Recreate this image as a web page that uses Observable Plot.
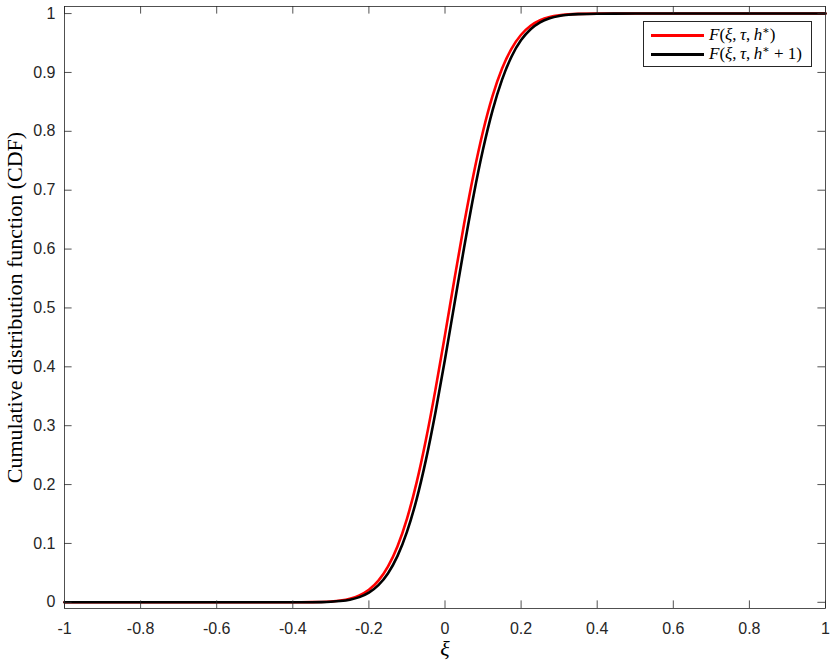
<!DOCTYPE html>
<html>
<head>
<meta charset="utf-8">
<script src="https://cdn.jsdelivr.net/npm/d3@7"></script>
<script src="https://cdn.jsdelivr.net/npm/@observablehq/plot@0.6"></script>
<style>
  html, body { margin: 0; padding: 0; background: #fff; }
  #wrap { position: relative; width: 831px; height: 661px; }
  #legend {
    position: absolute; left: 643px; top: 21px; width: 167px; height: 44px;
    border: 1px solid #262626; background: #fff;
    font-family: "Liberation Serif", "DejaVu Serif", serif; font-size: 17px; color: #000;
  }
  .row { position: absolute; left: 0; height: 20px; line-height: 20px; white-space: nowrap; }
  .sw { display: inline-block; width: 53px; height: 3px; margin-left: 7px; margin-right: 5px; vertical-align: middle; position: relative; top: -1px; }
  .st { font-size: 11px; position: relative; top: -6px; }
</style>
</head>
<body>
<div id="wrap"></div>
<script>
// x positions (ξ)
const xs = [-1, -0.5, -0.4, -0.35, -0.325, -0.3, -0.275, -0.25, -0.225, -0.2, -0.175, -0.15, -0.125, -0.1, -0.075, -0.05, -0.025,
  0, 0.025, 0.05, 0.075, 0.1, 0.125, 0.15, 0.175, 0.2, 0.225, 0.25, 0.275, 0.3, 0.325, 0.35, 0.4, 0.5, 1];
// F(ξ, τ, h*) — red curve
const redF = [0, 0, 0.0001, 0.0003, 0.0006, 0.0014, 0.0030, 0.0061, 0.0117, 0.0212, 0.0368, 0.0606, 0.0949, 0.1419, 0.2025, 0.2766, 0.3617,
  0.4543, 0.5495, 0.6420, 0.7267, 0.8001, 0.8602, 0.9067, 0.9406, 0.9640, 0.9792, 0.9886, 0.9941, 0.9971, 0.9986, 0.9994, 0.9999, 1, 1];
// F(ξ, τ, h* + 1) — black curve
const blackF = [0, 0, 0.0001, 0.0002, 0.0004, 0.0010, 0.0022, 0.0045, 0.0088, 0.0164, 0.0291, 0.0489, 0.0784, 0.1196, 0.1741, 0.2424, 0.3230,
  0.4129, 0.5076, 0.6018, 0.6907, 0.7694, 0.8355, 0.8879, 0.9271, 0.9549, 0.9734, 0.9851, 0.9920, 0.9960, 0.9981, 0.9991, 0.9998, 1, 1];

const xTicks = [-1, -0.8, -0.6, -0.4, -0.2, 0, 0.2, 0.4, 0.6, 0.8, 1];
const xTickLabels = ["-1", "-0.8", "-0.6", "-0.4", "-0.2", "0", "0.2", "0.4", "0.6", "0.8", "1"];
const yTicks = [0, 0.1, 0.2, 0.3, 0.4, 0.5, 0.6, 0.7, 0.8, 0.9, 1];
const yTickLabels = ["0", "0.1", "0.2", "0.3", "0.4", "0.5", "0.6", "0.7", "0.8", "0.9", "1"];
const seriesNames = ["F(ξ, τ, h*)", "F(ξ, τ, h* + 1)"];
const seriesColors = ["#ff0000", "#000000"];

const rows = [];
xs.forEach((x, i) => rows.push({x, y: redF[i], s: seriesNames[0]}));
xs.forEach((x, i) => rows.push({x, y: blackF[i], s: seriesNames[1]}));

const W = 831, H = 661, mL = 64, mR = 6, mT = 6, mB = 53;
const plotH = H - mT - mB, plotW = W - mL - mR, tl = 7.6;
const axisColor = "#262626";

const chart = Plot.plot({
  width: W, height: H,
  marginLeft: mL, marginRight: mR, marginTop: mT, marginBottom: mB,
  style: {fontFamily: "'Liberation Sans', Arial, sans-serif", fontSize: "16px", background: "#fff", color: axisColor},
  x: {domain: [-1, 1]},
  y: {domain: [-0.0105, 1.012]},
  color: {domain: seriesNames, range: seriesColors},
  marks: [
    Plot.axisX(xTicks, {tickSize: 0, tickPadding: 14, tickFormat: (d, i) => xTickLabels[i], label: null, fill: "#262626", fontSize: 16}),
    Plot.axisY(yTicks, {tickSize: 0, tickPadding: 9, tickFormat: (d, i) => yTickLabels[i], label: null, fill: "#262626", fontSize: 16}),
    Plot.axisX([], {label: "ξ", labelAnchor: "center", labelOffset: 47, labelArrow: "none",
      fontFamily: "'Liberation Serif', 'DejaVu Serif', serif", fontSize: 22, fontStyle: "italic", fill: "#000"}),
    Plot.axisY([], {label: "Cumulative distribution function (CDF)", labelAnchor: "center", labelOffset: 58, labelArrow: "none",
      fontFamily: "'Liberation Serif', 'DejaVu Serif', serif", fontSize: 22, letterSpacing: "0.5px", dy: 16, fill: "#000"}),
    Plot.lineY(rows.filter(d => d.s === seriesNames[0]), {x: "x", y: "y", stroke: "s", strokeWidth: 2.6, curve: "monotone-x"}),
    Plot.lineY(rows.filter(d => d.s === seriesNames[1]), {x: "x", y: "y", stroke: "s", strokeWidth: 2.6, curve: "monotone-x"}),
    Plot.tickX(xTicks, {x: d => d, insetTop: plotH - tl, stroke: axisColor, strokeWidth: 0.8}),
    Plot.tickX(xTicks, {x: d => d, insetBottom: plotH - tl, stroke: axisColor, strokeWidth: 0.8}),
    Plot.tickY(yTicks, {y: d => d, insetRight: plotW - tl, stroke: axisColor, strokeWidth: 0.8}),
    Plot.tickY(yTicks, {y: d => d, insetLeft: plotW - tl, stroke: axisColor, strokeWidth: 0.8}),
    Plot.frame({stroke: axisColor, strokeWidth: 0.8})
  ]
});

const wrap = document.getElementById("wrap");
wrap.appendChild(chart);

const legend = document.createElement("div");
legend.id = "legend";
legend.innerHTML =
  `<div class="row" style="top:3px"><span class="sw" style="background:${seriesColors[0]}"></span><i>F</i>(<i>ξ</i>,&thinsp;<i>τ</i>,&thinsp;<i>h</i><span class="st">∗</span>)</div>` +
  `<div class="row" style="top:22px"><span class="sw" style="background:${seriesColors[1]}"></span><i>F</i>(<i>ξ</i>,&thinsp;<i>τ</i>,&thinsp;<i>h</i><span class="st">∗</span>&nbsp;+&nbsp;1)</div>`;
wrap.appendChild(legend);
</script>
</body>
</html>
